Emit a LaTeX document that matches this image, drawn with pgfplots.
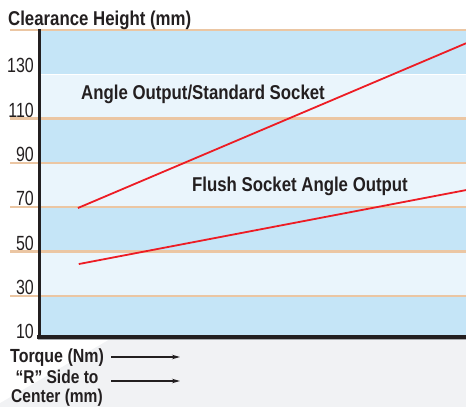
\documentclass[border=0pt]{standalone}
\usepackage{pgfplots}
\pgfplotsset{compat=1.18}
\usepackage{fontspec}
\setmainfont{Liberation Sans}[FakeStretch=0.84]
\newfontfamily\tickfont{Liberation Sans}[FakeStretch=0.78]
\usetikzlibrary{arrows.meta}
\definecolor{bdark}{HTML}{C5E5F7}
\definecolor{blight}{HTML}{EAF5FC}
\definecolor{orline}{HTML}{EBC6A3}
\definecolor{redl}{HTML}{ED1C24}
\definecolor{blk}{HTML}{231F20}
\definecolor{botgray}{HTML}{F1F2F4}
\definecolor{lgray}{HTML}{A7A9AC}
\begin{document}
\begin{tikzpicture}[x=1pt,y=1pt]
\useasboundingbox (0,0) rectangle (466,407);
\fill[white] (0,0) rectangle (466,407);
\fill[botgray] (0,0) rectangle (466,68);
\fill[white] (0,68) -- (110,68) -- (0,4) -- cycle;
\begin{axis}[
  at={(40pt,67pt)}, anchor=south west,
  scale only axis, width=426pt, height=310pt,
  xmin=0, xmax=10, ymin=10, ymax=150,
  axis line style={draw=none},
  xtick=\empty,
  ytick={10,30,50,70,90,110,130},
  major tick length=0pt,
  clip=false,
  /pgf/number format/assume math mode=true,
  yticklabel style={font=\tickfont\fontsize{20.5}{20}\selectfont, text=blk,
    anchor=south east, inner sep=0pt, xshift=-6pt, yshift=1pt},
]
% bands
\fill[bdark] (axis cs:0,11.3) rectangle (axis cs:10,30);
\fill[blight] (axis cs:0,30) rectangle (axis cs:10,50);
\fill[bdark] (axis cs:0,50) rectangle (axis cs:10,70);
\fill[blight] (axis cs:0,70) rectangle (axis cs:10,90);
\fill[bdark] (axis cs:0,90) rectangle (axis cs:10,110);
\fill[blight] (axis cs:0,110) rectangle (axis cs:10,130);
\fill[bdark] (axis cs:0,130) rectangle (axis cs:10,150);
% grid lines
\draw[white, line width=1.5pt] (axis cs:0,130) -- (axis cs:10,130);
\draw[orline, line width=2.3pt] (axis cs:-0.704,30) -- (axis cs:10,30);
\draw[orline, line width=2.3pt] (axis cs:-0.704,50) -- (axis cs:10,50);
\draw[orline, line width=2.3pt] (axis cs:-0.704,70) -- (axis cs:10,70);
\draw[orline, line width=2.3pt] (axis cs:-0.704,90) -- (axis cs:10,90);
\draw[orline, line width=2.3pt] (axis cs:-0.704,110) -- (axis cs:10,110);
\draw[orline, line width=2.3pt] (axis cs:-0.704,150) -- (axis cs:10,150);
% data
\addplot[redl, line width=1.8pt] coordinates {(0.89,69.6) (10,144.0)};
\addplot[redl, line width=1.8pt] coordinates {(0.91,44.3) (10,77.7)};
% axis lines
\draw[lgray, line width=1pt] (axis cs:-0.05,10.3) -- (axis cs:10,10.3);
\draw[blk, line width=4pt] (axis cs:-0.07,11.35) -- (axis cs:10,11.35);
\draw[blk, line width=3pt] (axis cs:-0.02,10.5) -- (axis cs:-0.02,150.5);
\end{axis}
\node[anchor=base west, inner sep=0pt, text=blk, font=\bfseries\fontsize{20}{20}\selectfont] at (8,381) {Clearance Height (mm)};
\node[anchor=base, inner sep=0pt, text=blk, font=\bfseries\fontsize{20}{20}\selectfont] at (203,307) {Angle Output/Standard Socket};
\node[anchor=base, inner sep=0pt, text=blk, font=\bfseries\fontsize{20}{20}\selectfont] at (300,215) {Flush Socket Angle Output};
\node[anchor=base west, inner sep=0pt, text=blk, font=\bfseries\fontsize{19}{20}\selectfont] at (10,44) {Torque (Nm)};
\node[anchor=base, inner sep=0pt, text=blk, font=\bfseries\fontsize{18.5}{20}\selectfont] at (57,23) {“R” Side to};
\node[anchor=base, inner sep=0pt, text=blk, font=\bfseries\fontsize{18.5}{20}\selectfont] at (57,5) {Center (mm)};
\draw[blk, line width=1.4pt, -{Stealth[length=8pt,width=4.5pt]}] (111,50) -- (180,50);
\draw[blk, line width=1.4pt, -{Stealth[length=8pt,width=4.5pt]}] (111,26) -- (180,26);
\end{tikzpicture}
\end{document}
